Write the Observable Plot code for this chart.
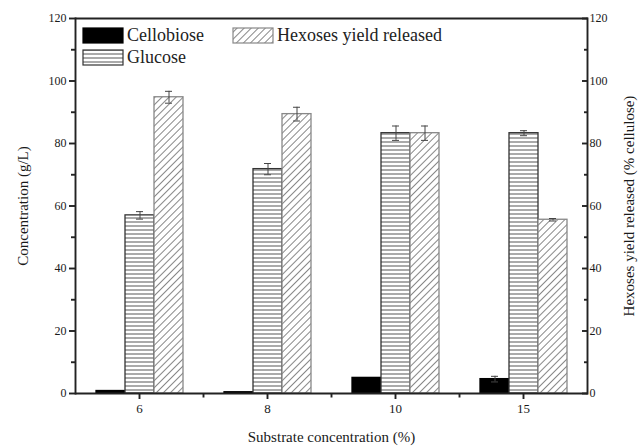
<!DOCTYPE html>
<html><head><meta charset="utf-8">
<script src="https://cdn.jsdelivr.net/npm/d3@7"></script>
<script src="https://cdn.jsdelivr.net/npm/@observablehq/plot@0.6"></script>
<style>
body{margin:0;background:#fff;}
#wrap{position:relative;width:638px;height:448px;font-family:"Liberation Serif",serif;}
#legend{position:absolute;left:0;top:0;pointer-events:none;}
</style></head><body>
<svg width="0" height="0" style="position:absolute">
<defs>
<pattern id="hlines" patternUnits="userSpaceOnUse" width="8" height="4"><rect width="8" height="4" fill="#fff"/><line x1="0" y1="2" x2="8" y2="2" stroke="#555" stroke-width="1"/></pattern>
<pattern id="diag" patternUnits="userSpaceOnUse" width="5" height="5" patternTransform="rotate(45)"><rect width="5" height="5" fill="#fff"/><line x1="2.5" y1="0" x2="2.5" y2="5" stroke="#888" stroke-width="1"/></pattern>
</defs>
</svg>
<div id="wrap"></div>
<script>
const categories = ["6", "8", "10", "15"];
const series = ["Cellobiose", "Glucose", "Hexoses yield released"];
const cellobiose = [0.8, 0.4, 5.0, 4.6];
const cellobioseErr = [0, 0, 0, 0.9];
const glucose = [57.0, 71.8, 83.3, 83.3];
const glucoseErr = [1.2, 1.8, 2.3, 0.8];
const hexoses = [94.8, 89.4, 83.3, 55.6];
const hexosesErr = [1.9, 2.2, 2.3, 0.4];
const yTicks = [0, 20, 40, 60, 80, 100, 120];
const yMinorTicks = [10, 30, 50, 70, 90, 110];

const values = [cellobiose, glucose, hexoses];
const errs = [cellobioseErr, glucoseErr, hexosesErr];
const rows = series.flatMap((s, i) => categories.map((c, j) => ({cat: c, series: s, value: values[i][j], err: errs[i][j]})));
const errRows = rows.filter(d => d.err > 0);

const fills = ["#000", "url(#hlines)", "url(#diag)"];
const strokes = ["#000", "#333", "#888"];

const tickSym = {draw(ctx, size) { ctx.moveTo(0, 0); ctx.lineTo(0, 4); }};

const tickFont = {fontSize: 12, fontWeight: "normal"};
const fxFont = {fontSize: 13, fontWeight: "normal"};
const titleFont = {fontSize: 15, fontWeight: "normal"};
const axisStroke = {stroke: "#222", strokeWidth: 1.9};

const chart = Plot.plot({
  width: 638, height: 448,
  marginLeft: 74, marginRight: 51, marginTop: 18, marginBottom: 55,
  style: {fontFamily: "Liberation Serif, serif", fontSize: "12px", color: "#1a1a1a", background: "#fff"},
  fx: {domain: categories, padding: 0, label: null},
  x: {domain: series, paddingInner: 0, paddingOuter: 0.65, axis: null},
  y: {domain: [0, 120], axis: null},
  marks: [
    ...series.map((s, i) => Plot.barY(rows.filter(d => d.series === s), {fx: "cat", x: "series", y: "value", fill: fills[i], stroke: strokes[i], strokeWidth: 1.3})),
    Plot.ruleX(errRows, {fx: "cat", x: "series", y1: d => d.value - d.err, y2: d => d.value + d.err, stroke: "#444"}),
    Plot.tickY(errRows, {fx: "cat", x: "series", y: d => d.value + d.err, insetLeft: 11, insetRight: 11, stroke: "#444"}),
    Plot.tickY(errRows, {fx: "cat", x: "series", y: d => d.value - d.err, insetLeft: 11, insetRight: 11, stroke: "#444"}),
    Plot.ruleY([0, 120], axisStroke),
    Plot.frame({anchor: "left", fx: [categories[0]], ...axisStroke}),
    Plot.frame({anchor: "right", fx: [categories[categories.length - 1]], ...axisStroke}),
    Plot.axisY({anchor: "left", ticks: yTicks, tickSize: 6, tickPadding: 3, label: null, ...axisStroke, ...tickFont}),
    Plot.axisY({anchor: "left", ticks: yMinorTicks, tickSize: 4, tickFormat: () => "", label: null, ...axisStroke}),
    Plot.axisY({anchor: "left", ticks: [], label: "Concentration (g/L)", labelAnchor: "center", labelArrow: "none", labelOffset: 58, ...titleFont}),
    Plot.axisY({anchor: "right", ticks: yTicks, tickSize: -6, tickPadding: 8, label: null, ...axisStroke, ...tickFont}),
    Plot.axisY({anchor: "right", ticks: yMinorTicks, tickSize: -4, tickFormat: () => "", label: null, ...axisStroke}),
    Plot.axisY({anchor: "right", ticks: [], label: "Hexoses yield released (% cellulose)", labelAnchor: "center", labelArrow: "none", labelOffset: 46, ...titleFont}),
    Plot.axisFx({anchor: "bottom", tickSize: 6, tickPadding: 4, label: null, ...axisStroke, ...fxFont}),
    Plot.axisFx({anchor: "bottom", ticks: [], label: "Substrate concentration (%)", labelAnchor: "center", labelArrow: "none", labelOffset: 48, ...titleFont}),
    Plot.dot(categories.slice(1), {fx: d => d, frameAnchor: "bottom-left", symbol: tickSym, ...axisStroke})
  ]
});
document.getElementById("wrap").appendChild(chart);

// legend overlay inside the plot area
const leg = d3.select("#wrap").append("svg").attr("id", "legend").attr("width", 638).attr("height", 80);
const legPos = [[83, 28], [83, 50], [233, 28]];
series.forEach((s, i) => {
  const [lx, ly] = legPos[i];
  leg.append("rect").attr("x", lx).attr("y", ly).attr("width", 40).attr("height", 15)
    .attr("fill", fills[i]).attr("stroke", strokes[i]).attr("stroke-width", 1.2);
  leg.append("text").attr("x", lx + 44).attr("y", ly + 13).text(s)
    .style("font-family", "Liberation Serif, serif").style("font-size", "18px").attr("fill", "#222");
});
</script>
</body></html>
